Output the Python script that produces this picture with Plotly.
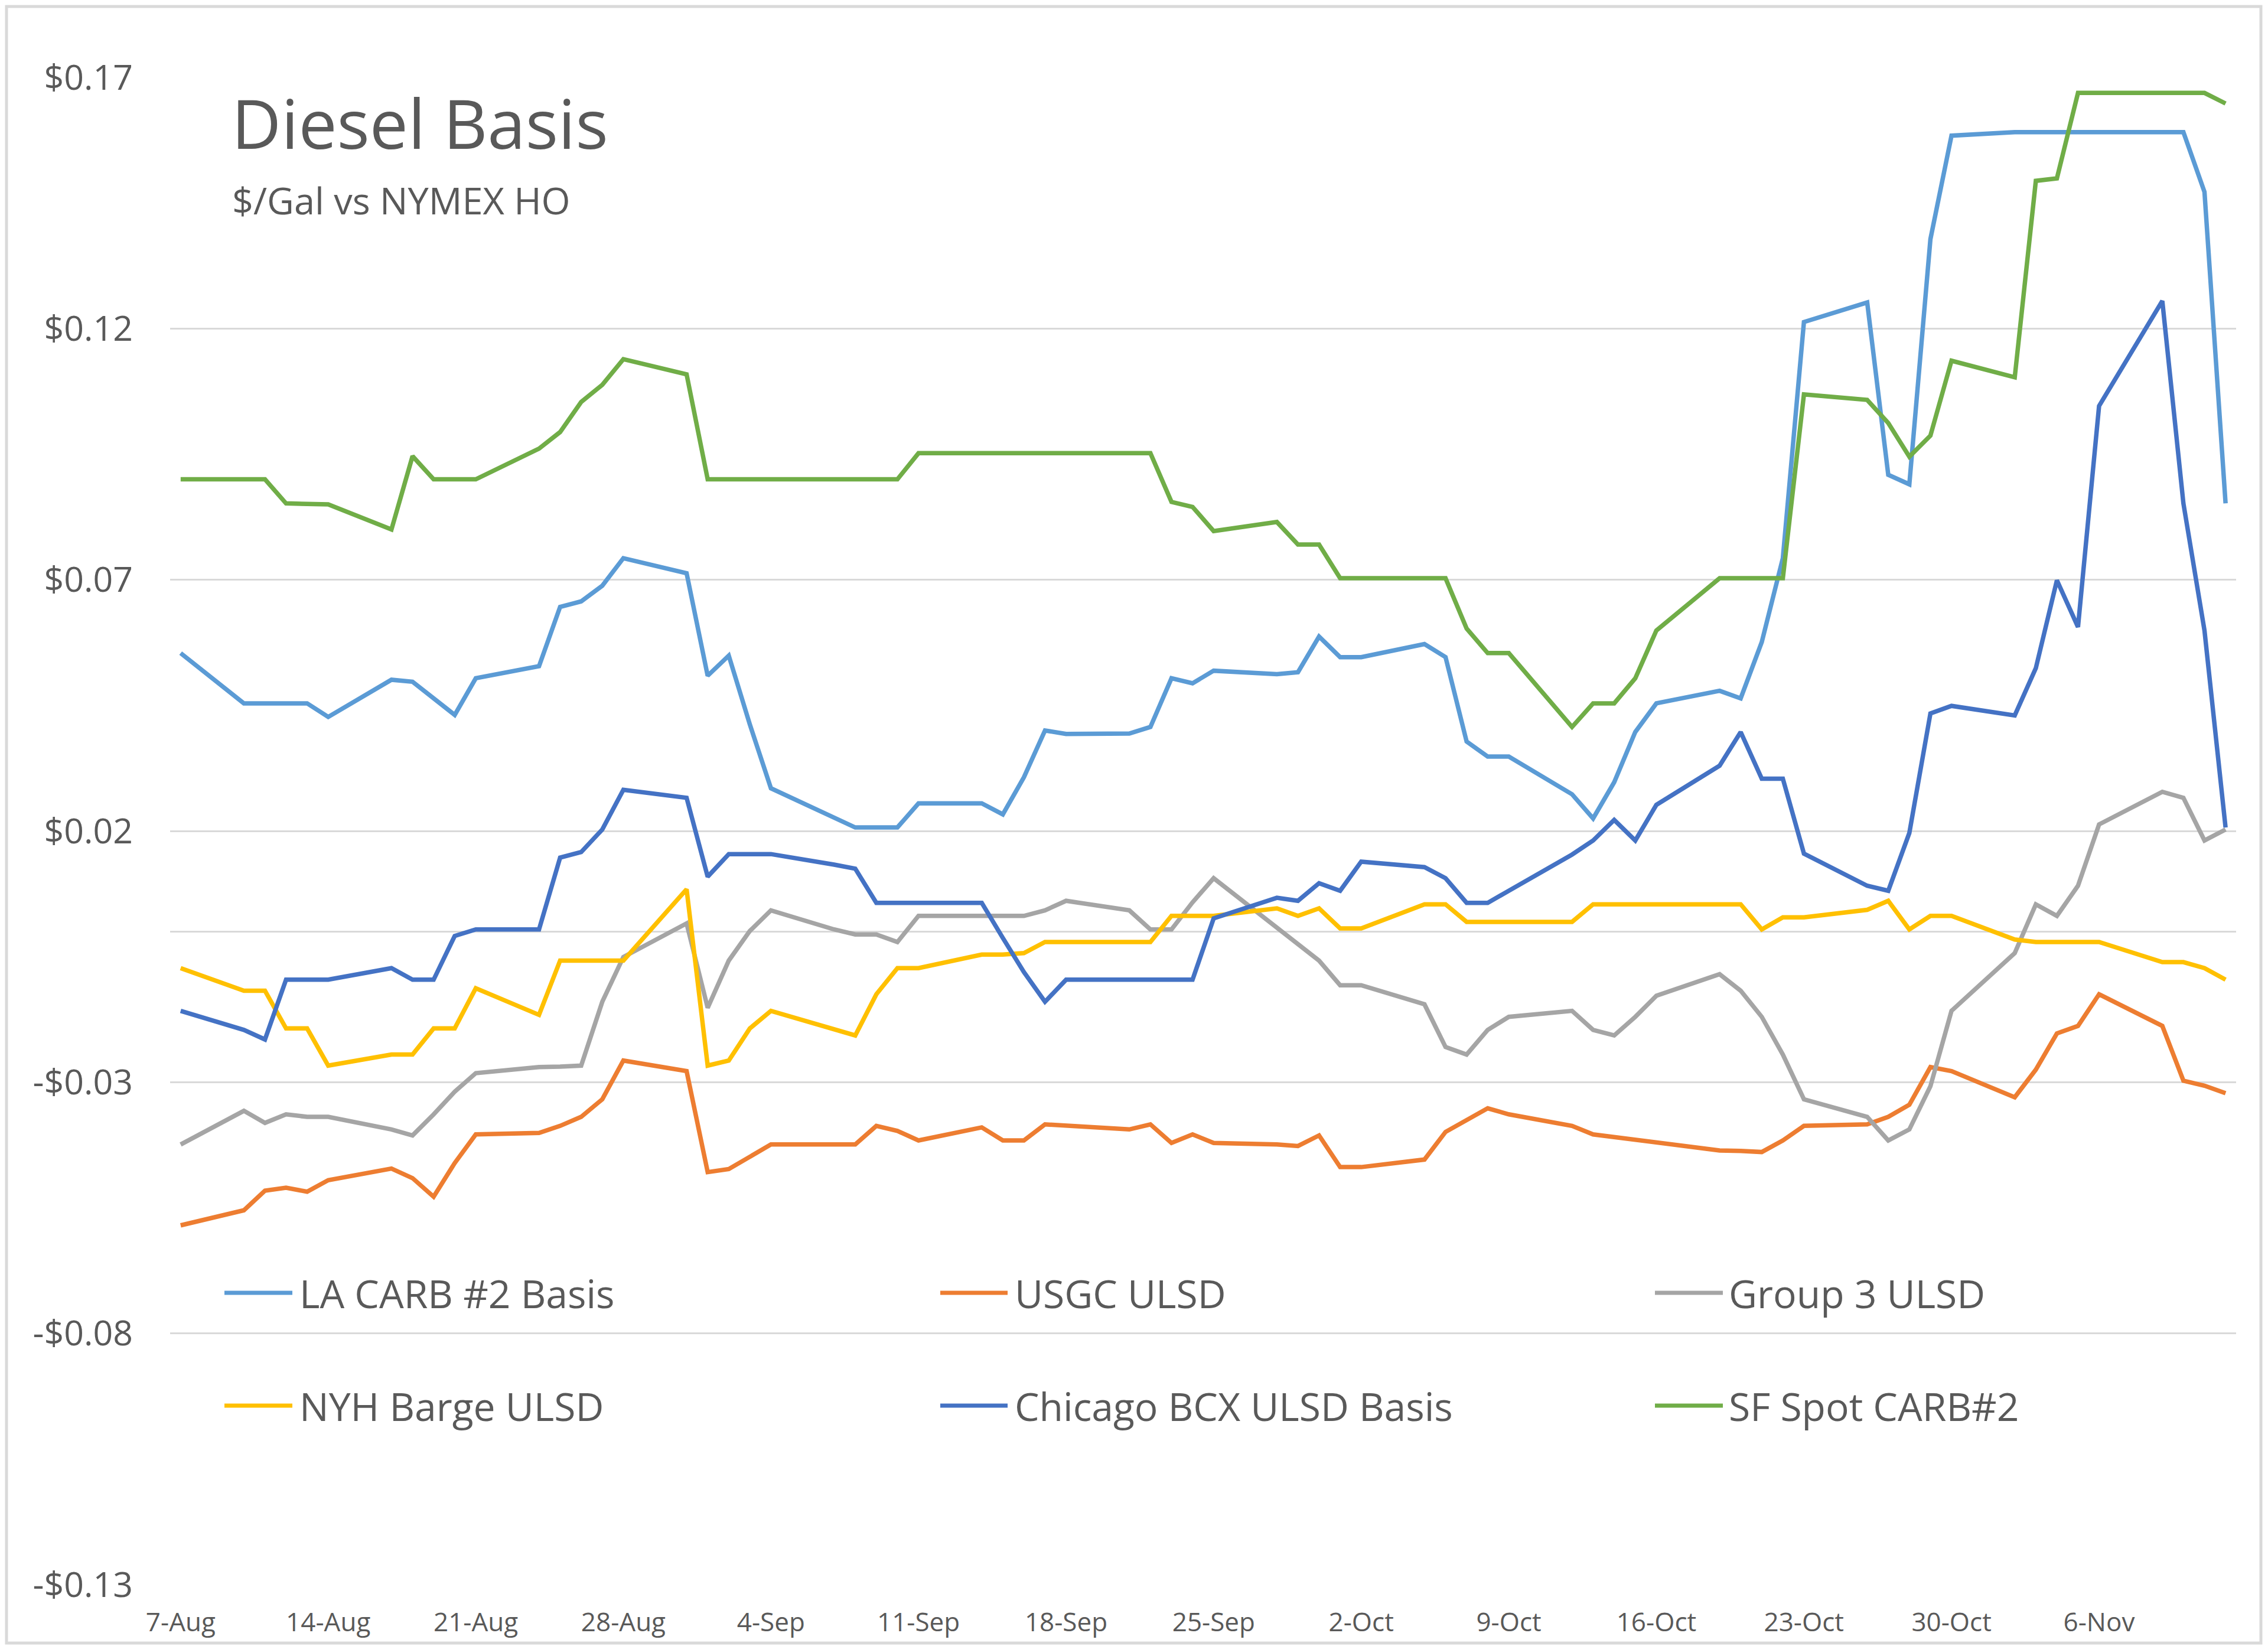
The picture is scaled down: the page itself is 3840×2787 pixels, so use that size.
import plotly.graph_objects as go

# ---------------- data ----------------
dates = [
    "2020-08-07",
    "2020-08-10", "2020-08-11", "2020-08-12", "2020-08-13", "2020-08-14",
    "2020-08-17", "2020-08-18", "2020-08-19", "2020-08-20", "2020-08-21",
    "2020-08-24", "2020-08-25", "2020-08-26", "2020-08-27", "2020-08-28",
    "2020-08-31", "2020-09-01", "2020-09-02", "2020-09-03", "2020-09-04",
    "2020-09-07", "2020-09-08", "2020-09-09", "2020-09-10", "2020-09-11",
    "2020-09-14", "2020-09-15", "2020-09-16", "2020-09-17", "2020-09-18",
    "2020-09-21", "2020-09-22", "2020-09-23", "2020-09-24", "2020-09-25",
    "2020-09-28", "2020-09-29", "2020-09-30", "2020-10-01", "2020-10-02",
    "2020-10-05", "2020-10-06", "2020-10-07", "2020-10-08", "2020-10-09",
    "2020-10-12", "2020-10-13", "2020-10-14", "2020-10-15", "2020-10-16",
    "2020-10-19", "2020-10-20", "2020-10-21", "2020-10-22", "2020-10-23",
    "2020-10-26", "2020-10-27", "2020-10-28", "2020-10-29", "2020-10-30",
    "2020-11-02", "2020-11-03", "2020-11-04", "2020-11-05", "2020-11-06",
    "2020-11-09", "2020-11-10", "2020-11-11", "2020-11-12",
]

la_carb = [
    0.0554,
    0.0454, 0.0454, 0.0454, 0.0454, 0.0427,
    0.0501, 0.0497, 0.0464, 0.0431, 0.0504,
    0.0528, 0.0646, 0.0657, 0.0688, 0.0743,
    0.0713, 0.0509, 0.0549, 0.0412, 0.0285,
    0.0225, 0.0207, 0.0207, 0.0207, 0.0255,
    0.0255, 0.0233, 0.0307, 0.0400, 0.0393,
    0.0394, 0.0407, 0.0504, 0.0494, 0.0519,
    0.0512, 0.0516, 0.0587, 0.0546, 0.0546,
    0.0572, 0.0546, 0.0378, 0.0348, 0.0348,
    0.0273, 0.0225, 0.0297, 0.0397, 0.0454,
    0.0479, 0.0464, 0.0576, 0.0743, 0.1213,
    0.1252, 0.0909, 0.0890, 0.1378, 0.1584,
    0.1591, 0.1591, 0.1591, 0.1591, 0.1591,
    0.1591, 0.1591, 0.1472, 0.0852,
]

usgc_ulsd = [
    -0.0585,
    -0.0555, -0.0516, -0.0510, -0.0518, -0.0495,
    -0.0472, -0.0491, -0.0528, -0.0461, -0.0404,
    -0.0401, -0.0387, -0.0369, -0.0334, -0.0257,
    -0.0278, -0.0479, -0.0473, -0.0449, -0.0424,
    -0.0424, -0.0424, -0.0387, -0.0397, -0.0416,
    -0.0390, -0.0416, -0.0416, -0.0384, -0.0387,
    -0.0394, -0.0384, -0.0421, -0.0404, -0.0421,
    -0.0424, -0.0427, -0.0406, -0.0469, -0.0469,
    -0.0454, -0.0399, -0.0376, -0.0352, -0.0364,
    -0.0387, -0.0404, -0.0409, -0.0416, -0.0421,
    -0.0436, -0.0437, -0.0439, -0.0416, -0.0387,
    -0.0384, -0.0369, -0.0345, -0.0270, -0.0278,
    -0.0330, -0.0275, -0.0203, -0.0188, -0.0125,
    -0.0188, -0.0297, -0.0307, -0.0322,
]

group3_ulsd = [
    -0.0424,
    -0.0357, -0.0381, -0.0364, -0.0369, -0.0369,
    -0.0394, -0.0406, -0.0364, -0.0319, -0.0282,
    -0.0270, -0.0269, -0.0267, -0.0140, -0.0051,
    0.0016, -0.0152, -0.0058, 0.0001, 0.0042,
    0.0004, -0.0006, -0.0006, -0.0021, 0.0031,
    0.0031, 0.0031, 0.0031, 0.0042, 0.0061,
    0.0042, 0.0004, 0.0004, 0.0058, 0.0106,
    0.0009, -0.0025, -0.0058, -0.0107, -0.0107,
    -0.0145, -0.0230, -0.0245, -0.0196, -0.0170,
    -0.0158, -0.0196, -0.0207, -0.0170, -0.0128,
    -0.0085, -0.0118, -0.0170, -0.0245, -0.0334,
    -0.0369, -0.0416, -0.0394, -0.0308, -0.0158,
    -0.0043, 0.0054, 0.0031, 0.0091, 0.0213,
    0.0278, 0.0266, 0.0181, 0.0203,
]

nyh_barge_ulsd = [
    -0.0073,
    -0.0118, -0.0118, -0.0193, -0.0193, -0.0267,
    -0.0245, -0.0245, -0.0193, -0.0193, -0.0113,
    -0.0166, -0.0058, -0.0058, -0.0058, -0.0058,
    0.0084, -0.0267, -0.0257, -0.0193, -0.0158,
    -0.0196, -0.0207, -0.0125, -0.0073, -0.0073,
    -0.0046, -0.0046, -0.0043, -0.0021, -0.0021,
    -0.0021, -0.0021, 0.0031, 0.0031, 0.0031,
    0.0046, 0.0031, 0.0046, 0.0006, 0.0006,
    0.0054, 0.0054, 0.0019, 0.0019, 0.0019,
    0.0019, 0.0054, 0.0054, 0.0054, 0.0054,
    0.0054, 0.0054, 0.0004, 0.0028, 0.0028,
    0.0043, 0.0061, 0.0004, 0.0031, 0.0031,
    -0.0016, -0.0021, -0.0021, -0.0021, -0.0021,
    -0.0061, -0.0061, -0.0073, -0.0096,
]

chicago_bcx = [
    -0.0158,
    -0.0196, -0.0215, -0.0096, -0.0096, -0.0096,
    -0.0073, -0.0096, -0.0096, -0.0009, 0.0004,
    0.0004, 0.0147, 0.0158, 0.0203, 0.0282,
    0.0266, 0.0109, 0.0154, 0.0154, 0.0154,
    0.0133, 0.0125, 0.0057, 0.0057, 0.0057,
    0.0057, -0.0013, -0.0081, -0.0140, -0.0096,
    -0.0096, -0.0096, -0.0096, -0.0096, 0.0026,
    0.0067, 0.0061, 0.0096, 0.0081, 0.0139,
    0.0128, 0.0106, 0.0057, 0.0057, 0.0081,
    0.0153, 0.0181, 0.0222, 0.0181, 0.0252,
    0.0330, 0.0397, 0.0304, 0.0304, 0.0155,
    0.0091, 0.0081, 0.0196, 0.0434, 0.0449,
    0.0430, 0.0524, 0.0699, 0.0606, 0.1046,
    0.1255, 0.0852, 0.0599, 0.0207,
]

sf_spot_carb = [
    0.0900,
    0.0900, 0.0900, 0.0852, 0.0850, 0.0850,
    0.0800, 0.0946, 0.0900, 0.0900, 0.0900,
    0.0961, 0.0994, 0.1054, 0.1088, 0.1139,
    0.1109, 0.0900, 0.0900, 0.0900, 0.0900,
    0.0900, 0.0900, 0.0900, 0.0900, 0.0952,
    0.0952, 0.0952, 0.0952, 0.0952, 0.0952,
    0.0952, 0.0952, 0.0855, 0.0845, 0.0797,
    0.0815, 0.0770, 0.0770, 0.0703, 0.0703,
    0.0703, 0.0703, 0.0603, 0.0554, 0.0554,
    0.0407, 0.0454, 0.0454, 0.0504, 0.0599,
    0.0703, 0.0703, 0.0703, 0.0703, 0.1069,
    0.1058, 0.1012, 0.0945, 0.0987, 0.1136,
    0.1103, 0.1494, 0.1499, 0.1669, 0.1669,
    0.1669, 0.1669, 0.1669, 0.1648,
]

series_names = [
    "LA CARB #2 Basis", "USGC ULSD", "Group 3 ULSD",
    "NYH Barge ULSD", "Chicago BCX ULSD Basis", "SF Spot CARB#2",
]
series_values = [la_carb, usgc_ulsd, group3_ulsd, nyh_barge_ulsd, chicago_bcx, sf_spot_carb]
series_colors = ["#5B9BD5", "#ED7D31", "#A5A5A5", "#FFC000", "#4472C4", "#70AD47"]

y_tick_values = [-0.13, -0.08, -0.03, 0.02, 0.07, 0.12, 0.17]
y_tick_labels = ["-$0.13", "-$0.08", "-$0.03", "$0.02", "$0.07", "$0.12", "$0.17"]

x_tick_dates = [
    "2020-08-07", "2020-08-14", "2020-08-21", "2020-08-28", "2020-09-04",
    "2020-09-11", "2020-09-18", "2020-09-25", "2020-10-02", "2020-10-09",
    "2020-10-16", "2020-10-23", "2020-10-30", "2020-11-06",
]
x_tick_labels = [
    "7-Aug", "14-Aug", "21-Aug", "28-Aug", "4-Sep", "11-Sep", "18-Sep",
    "25-Sep", "2-Oct", "9-Oct", "16-Oct", "23-Oct", "30-Oct", "6-Nov",
]

title_text = "Diesel Basis"
subtitle_text = "$/Gal vs NYMEX HO"

# ---------------- layout constants (page pixels) ----------------
PAGE_W, PAGE_H = 3840, 2787
OFF = 8  # default body margin of the html page
W, H = PAGE_W - OFF, PAGE_H - OFF
# plot area in page pixels
PL, PR, PT, PB = 288, 3786, 131, 2683
ML, MT = PL - OFF, PT - OFF
MR, MB = PAGE_W - PR, PAGE_H - PB
PW, PH = PR - PL, PB - PT
FONT = "Open Sans, Roboto, DejaVu Sans, sans-serif"
TXT = "#595959"
GRID = "#D9D9D9"


def px(x):
    return (x - PL) / PW


def py(y):
    return (PB - y) / PH


fig = go.Figure()
for name, vals, col in zip(series_names, series_values, series_colors):
    fig.add_trace(go.Scatter(
        x=dates, y=vals, name=name, mode="lines",
        line=dict(color=col, width=7.5), connectgaps=True, showlegend=False,
    ))

# custom legend (3 columns x 2 rows)
leg_cols = [(380, 495, 505), (1592, 1706, 1716), (2802, 2917, 2925)]
leg_rows = [2189, 2380]
shapes = []
annotations = []
for i, (name, col) in enumerate(zip(series_names, series_colors)):
    c = leg_cols[i % 3]
    r = leg_rows[i // 3]
    shapes.append(dict(type="line", xref="paper", yref="paper",
                       x0=px(c[0]), x1=px(c[1]), y0=py(r), y1=py(r),
                       line=dict(color=col, width=7)))
    annotations.append(dict(text=name, xref="paper", yref="paper",
                            x=px(c[2]), y=py(r), xanchor="left", yanchor="middle",
                            showarrow=False, font=dict(family=FONT, size=66, color=TXT)))

annotations.append(dict(text=title_text, xref="paper", yref="paper",
                        x=px(390), y=py(207), xanchor="left", yanchor="middle",
                        showarrow=False, font=dict(family=FONT, size=116, color=TXT)))
annotations.append(dict(text=subtitle_text, xref="paper", yref="paper",
                        x=px(391), y=py(338), xanchor="left", yanchor="middle",
                        showarrow=False, font=dict(family=FONT, size=63, color=TXT)))

# chart-area border (kept inside the figure canvas)
shapes.append(dict(type="rect", xref="paper", yref="paper",
                   x0=px(11), x1=px(3828), y0=py(2782), y1=py(11),
                   line=dict(color=GRID, width=5), fillcolor="rgba(0,0,0,0)"))

fig.update_layout(
    width=W, height=H, autosize=False,
    margin=dict(l=ML, r=MR, t=MT, b=MB, pad=0),
    paper_bgcolor="white", plot_bgcolor="white",
    font=dict(family=FONT, color=TXT),
    shapes=shapes, annotations=annotations, showlegend=False,
)
fig.update_xaxes(
    type="date", range=["2020-08-06 12:00", "2020-11-12 12:00"],
    tickvals=x_tick_dates, ticktext=x_tick_labels,
    showgrid=False, zeroline=False, showline=False, ticks="",
    tickfont=dict(family=FONT, size=44, color=TXT), ticklabelstandoff=34,
)
fig.update_yaxes(
    range=[-0.13, 0.17], tickvals=y_tick_values, ticktext=y_tick_labels,
    showgrid=True, gridcolor=GRID, gridwidth=3,
    zeroline=True, zerolinecolor=GRID, zerolinewidth=3,
    showline=False, ticks="",
    tickfont=dict(family=FONT, size=59, color=TXT), ticklabelstandoff=62,
)

fig.write_html("out.html")
